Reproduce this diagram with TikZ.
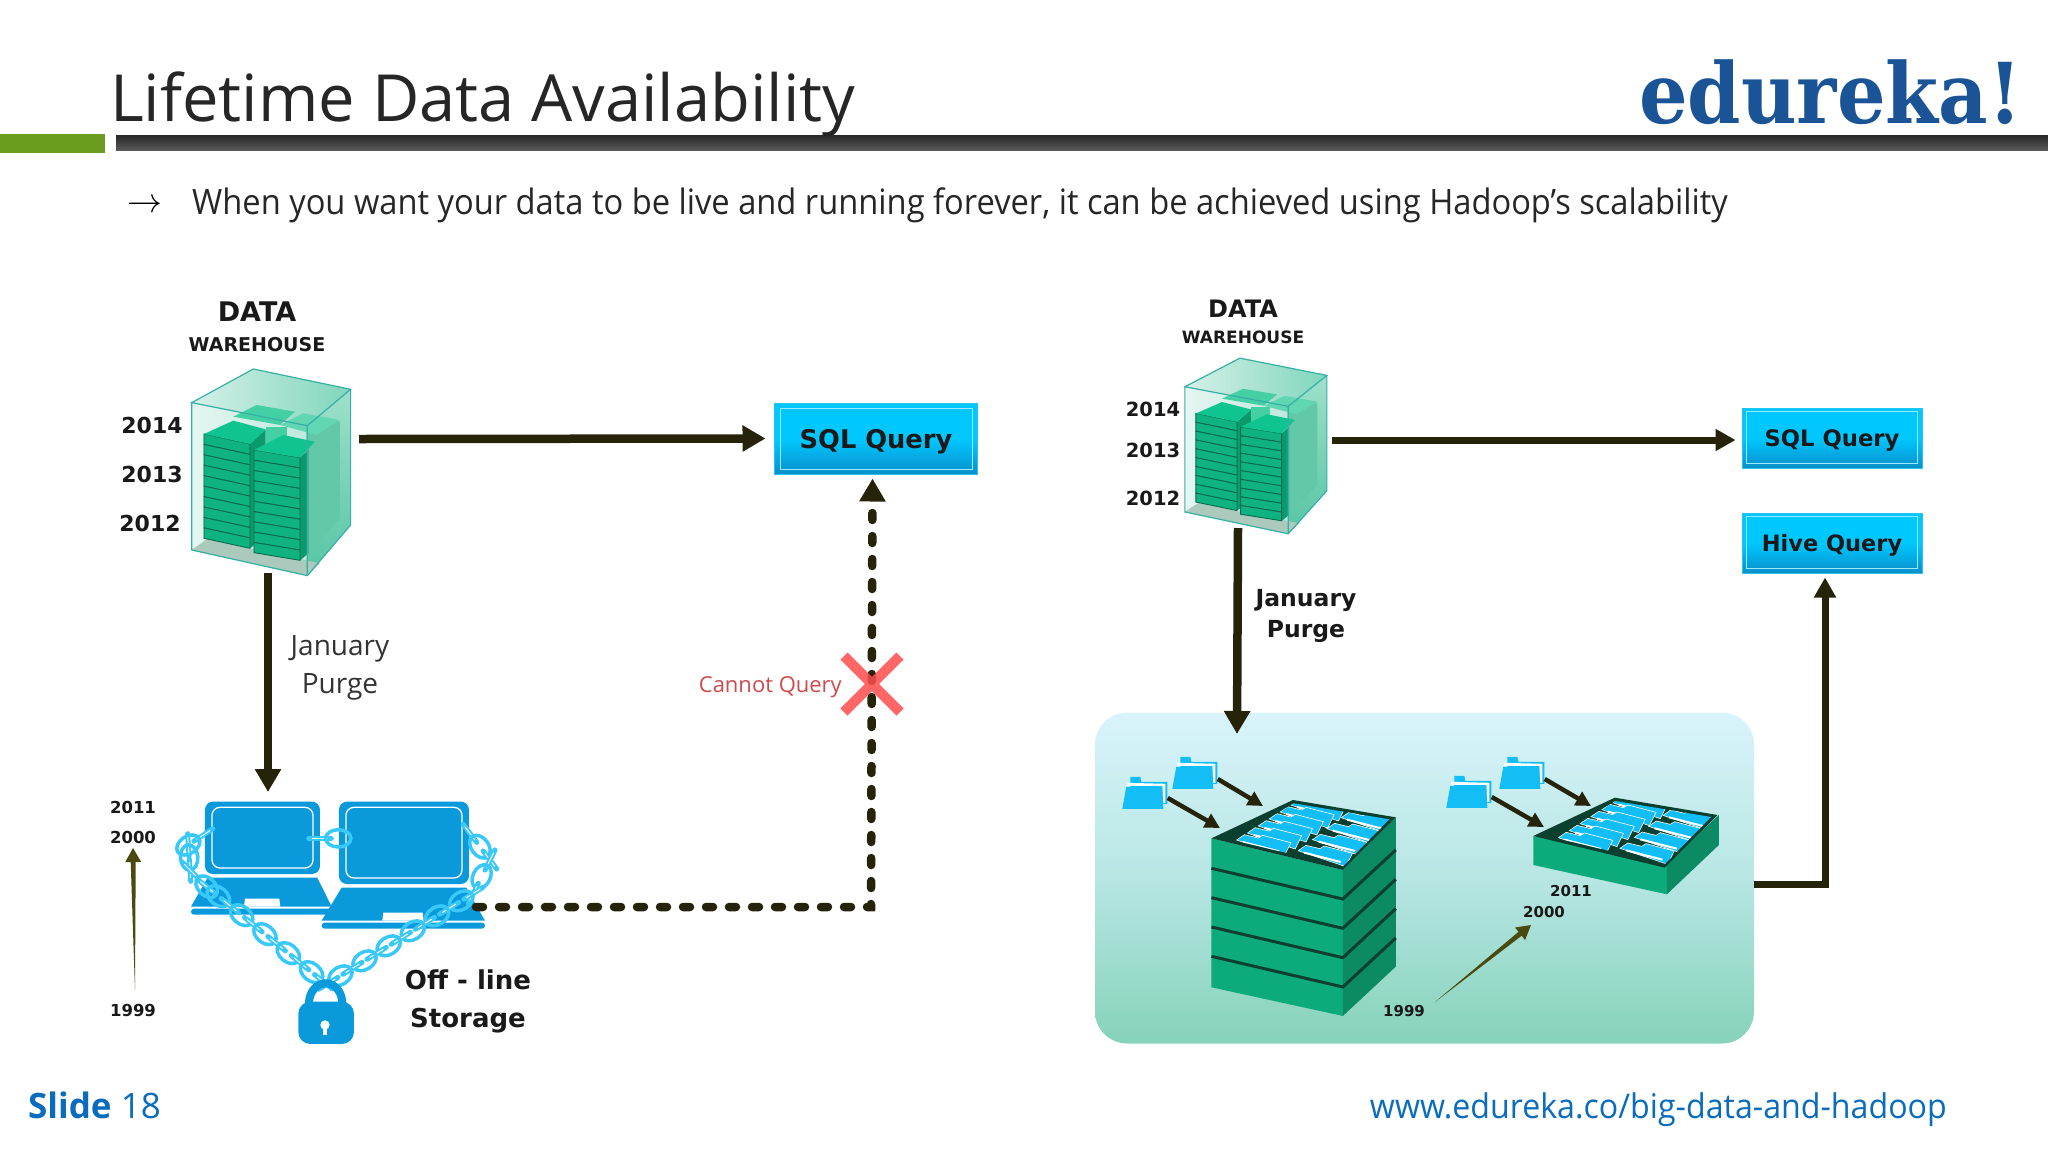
\documentclass[tikz,border=0pt]{standalone}
\usepackage{fontspec}
\setmainfont{Open Sans}
\newfontfamily\verd{DejaVu Sans}
\newfontfamily\logofont{DejaVu Serif}
\usetikzlibrary{arrows.meta,calc}
\newcommand{\fsz}[1]{\fontsize{#1}{#1}\selectfont}
\definecolor{arrowdark}{HTML}{25240A}
\definecolor{olivearrow}{HTML}{4A4A10}
\definecolor{lapblue}{HTML}{0A9ADB}
\definecolor{chainblue}{HTML}{38C8FA}
\definecolor{filecyan}{HTML}{12BEF5}
\definecolor{stackfront}{HTML}{0DAB7C}
\definecolor{stackside}{HTML}{0B8A64}
\definecolor{stackline}{HTML}{0B3F30}
\definecolor{slatfront}{HTML}{0FB381}
\definecolor{slatline}{HTML}{0A6B4D}
\definecolor{slattop}{HTML}{10C48F}
\definecolor{slatside}{HTML}{0B9A6E}
\definecolor{glassleft}{HTML}{E5F6F2}
\definecolor{glassmid}{HTML}{C0E8DE}
\definecolor{glasstopa}{HTML}{D5F0E8}
\definecolor{glasstopb}{HTML}{80D6BC}
\definecolor{glasssidea}{HTML}{9FE0CB}
\definecolor{glasssideb}{HTML}{55C5A3}
\definecolor{glassedge}{HTML}{35B0A2}
\definecolor{rearstack}{HTML}{62C8A8}
\definecolor{rearplate}{HTML}{45CFA5}
\definecolor{floorgrey}{HTML}{ABC9BD}
\definecolor{pooltop}{HTML}{D9F4FB}
\definecolor{poolmid}{HTML}{B7E6E3}
\definecolor{poolbottom}{HTML}{86D2BA}
\definecolor{slidebrand}{HTML}{0A6CBD}
\definecolor{logoblue}{HTML}{1A5496}
\definecolor{nogored}{HTML}{D04A4C}
\definecolor{bargreen}{HTML}{6A9C1E}
\definecolor{qtop}{HTML}{00C8FF}
\definecolor{qbottom}{HTML}{0A8FCB}
\definecolor{qedge}{HTML}{25C4F5}
\tikzset{
    bigarrow/.style={draw=arrowdark,line width=8.5pt,-{Triangle[width=25pt,length=23pt]}},
    medarrow/.style={draw=arrowdark,line width=7pt,-{Triangle[width=21pt,length=20pt]}},
    smallarrow/.style={draw=arrowdark,line width=4.5pt,-{Triangle[width=15pt,length=15pt]}},
    dasharrow/.style={draw=arrowdark,line width=8.5pt,line cap=round,dash pattern=on 7pt off 16pt,-{Triangle[width=25pt,length=23pt]}},
    querybox/.style={rectangle,inner sep=0pt,top color=qtop,bottom color=qbottom,middle color=qtop,draw=qedge,line width=1pt},
    yeartext/.style={inner sep=0pt,text=black!90,font=\verd\bfseries\fsz{#1}},
    holdbox/.style={inner sep=0pt,minimum width=#1},
    folderbox/.style={inner sep=0pt,minimum width=45pt,minimum height=32pt},
    chainring/.style={draw=chainblue,line width=3.5pt},
}
% run of chain links between two points
\newcommand{\chainseg}[5]{
    \pgfmathsetmacro\ang{atan2(-(#4-#2),#3-#1)}
    \foreach \n in {0,...,#5}{
        \pgfmathsetmacro\px{#1+(#3-#1)*\n/#5}
        \pgfmathsetmacro\py{#2+(#4-#2)*\n/#5}
        \begin{scope}[shift={(\px,\py)},rotate=\ang]
            \ifodd\n
                \draw[chainring] (0,0) ellipse (38pt and 26pt);
            \else
                \draw[chainblue,line width=5pt,line cap=round] (-34pt,0)--(34pt,0);
                \draw[white,line width=1pt] (-24pt,0)--(24pt,0);
            \fi
        \end{scope}
    }
}
% cube with server stacks, in the coordinates of the left one
\newcommand{\datacube}{
    \shade[left color=glasstopa,right color=glasstopb] (275,398)--(460,297)--(752,358)--(622,467)--cycle;
    \shade[top color=glasssidea,bottom color=glasssideb] (622,467)--(752,358)--(752,765)--(622,917)--cycle;
    \shade[left color=glassleft,right color=glassmid] (275,398)--(622,467)--(622,917)--(275,840)--cycle;
    %rear stacks
    \fill[rearstack] (620,470)--(645,445)--(720,455)--(720,745)--(655,815)--(620,830)--cycle;
    \fill[rearplate] (400,440)--(470,405)--(585,425)--(540,465)--cycle;
    \fill[rearplate!85!white] (540,465)--(610,430)--(718,450)--(650,495)--cycle;
    \fill[rearplate] (497,470)--(560,470)--(560,540)--(497,540)--cycle;
    %floor
    \fill[floorgrey] (275,840)--(320,808)--(660,880)--(622,917)--cycle;
    %front stacks
    \fill[slatside] (450,522)--(497,478)--(497,800)--(450,835)--cycle;
    \foreach \i in {0,...,9}{
        \draw[slatline,fill=slatfront,line width=.9pt] (312,{492+\i*31.3})--(450,{522+\i*31.3})--(450,{553.3+\i*31.3})--(312,{523.3+\i*31.3})--cycle;
    }
    \fill[slattop] (312,492)--(400,452)--(497,478)--(450,522)--cycle;
    \fill[slatside] (600,563)--(625,540)--(625,850)--(600,872)--cycle;
    \foreach \i in {0,...,9}{
        \draw[slatline,fill=slatfront,line width=.9pt] (462,{540+\i*30.8})--(600,{563+\i*30.8})--(600,{593.8+\i*30.8})--(462,{570.8+\i*30.8})--cycle;
    }
    \fill[slattop] (462,540)--(550,495)--(645,515)--(600,563)--cycle;
    %glass edges
    \draw[glassedge,line width=1.2pt] (275,398)--(460,297)--(752,358)--(622,467)--cycle (275,398)--(275,840)--(622,917)--(752,765)--(752,358) (622,467)--(622,917);
}
% one laptop
\newcommand{\laptop}[9]{
    \fill[lapblue,rounded corners=8pt] (#1,#2) rectangle (#3,#4);
    \draw[white,line width=1.3pt,rounded corners=8pt] ({#1+21},{#2+17}) rectangle ({#3-21},{#4-18});
    \fill[lapblue] ({#1+8},{#4+11})--({#3-8},{#4+11})--(#6,#7)--(#5,#7)--cycle;
    \fill[lapblue,rounded corners=3pt] (#5,{#7+6}) rectangle (#6,{#7+24});
    \fill[white] (#8,{#7-24})--(#9,{#7-24})--({#9+3},#7)--({#8-3},#7)--cycle;
}
% folder, top left at the origin
\newcommand{\folder}{
    \fill[filecyan] (8,0)--(18,0)--(19,5)--(45,5)--(45,27)--(8,27)--cycle;
    \fill[white] (5,6)--(43,7)--(43,26)--(40,26)--(40,9)--(5,9)--cycle;
    \fill[filecyan] (4,10)--(40,10)--(41,32)--(0,32)--cycle;
}
% one hanging file on a tray
\newcommand{\filecard}{
    \fill[filecyan,draw=white,line width=.6pt] (0,0)--(18,-16)--(50,-6)--(60,-14)--(125,8)--(110,48)--cycle;
    \draw[white,line width=2pt] (14,6)--(98,34);
}
% open top of a green box, with its files
\newcommand{\filetray}{
    \fill[stackline] (280,415)--(468,300)--(705,352)--(583,510)--cycle;
    \begin{scope}
        \clip (330,420)--(470,310)--(690,358)--(583,500)--cycle;
        \foreach \k in {5,...,0}{
            \begin{scope}[shift={(338+\k*25,420-\k*21)}]\filecard\end{scope}
        }
        \foreach \k in {3,...,0}{
            \begin{scope}[shift={(480+\k*33,452-\k*33)}]\filecard\end{scope}
        }
    \end{scope}
}
% arrow that narrows towards its tail
\newcommand{\taper}[3]{
    \coordinate (hb) at ($(#2)!#3!(#1)$);
    \fill[olivearrow] (#1)--($(hb)!2.5pt!90:(#2)$)--($(hb)!8pt!90:(#2)$)--(#2)--($(hb)!8pt!-90:(#2)$)--($(hb)!2.5pt!-90:(#2)$)--cycle;
}
\begin{document}
\begin{tikzpicture}[x=1pt,y=-1pt]
    \useasboundingbox (0,0) rectangle (2048,1152);
    %header
    \node[anchor=base west,inner sep=0pt,text=black!85,font=\fsz{65}] (title) at (110,121) {Lifetime Data Availability};
    \node[anchor=base west,inner sep=0pt,text=logoblue,font=\logofont\bfseries] (logo) at (1639,123) {\scalebox{.91}[1]{\fsz{84}edureka!}};
    \fill[bargreen] (0,134) rectangle (105,153);
    \shade[top color=black!85,bottom color=black!65] (116,135) rectangle (2048,150);
    \node[inner sep=0pt,font=\fsz{32}] (bullet) at (145,206) {\scalebox{1.4}{$\rightarrow$}};
    \node[anchor=base west,inner sep=0pt,text=black!85,font=\fsz{35}] (lead) at (192,214) {\scalebox{.933}[1]{When you want your data to be live and running forever, it can be achieved using Hadoop’s scalability}};

    %left warehouse
    \node[yeartext=27] (dataA) at (257,312) {DATA};
    \node[yeartext=19] (wareA) at (257,345) {WAREHOUSE};
    \begin{scope}[shift={(100,270)},scale=.3333]
        \datacube
    \end{scope}
    \node[holdbox=159pt,minimum height=207pt] (cubeA) at (271,472) {};
    \node[yeartext=22] at (152,425) (yearAa) {2014};
    \node[yeartext=22] at (152,474) (yearAb) {2013};
    \node[yeartext=22] at (150,523) (yearAc) {2012};

    %left query box
    \node[querybox,minimum width=203pt,minimum height=71pt] (sqlA) at (875.5,438.5) {};
    \draw[white!60!qtop,line width=1.2pt] ([shift={(7pt,-6pt)}]sqlA.north west) rectangle ([shift={(-5pt,5pt)}]sqlA.south east);
    \node[yeartext=25.7] (sqlAtext) at (876,442) {SQL Query};
    \coordinate (cubeAout) at (359,439);
    \coordinate (cubeAdown) at (268,573);
    \coordinate (laptopin) at (268,792);
    \draw[bigarrow] (cubeAout) -- ([xshift=-8pt]sqlA.west);
    \draw[bigarrow] (cubeAdown) -- (laptopin);
    \node[font=\fsz{28},text=black!80,inner sep=0pt] (purgeAa) at (340,649) {January};
    \node[font=\fsz{28},text=black!80,inner sep=0pt] (purgeAb) at (340,687) {Purge};

    %offline storage
    \begin{scope}[shift={(90,770)},scale=.3333]
        \laptop{345}{95}{690}{312}{303}{725}{410}{465}{568}
        \laptop{747}{95}{1137}{342}{695}{1185}{452}{880}{998}
        %chains
        \chainseg{340}{195}{295}{225}{1}
        \chainseg{295}{225}{300}{300}{2}
        \chainseg{300}{300}{350}{350}{1}
        \chainseg{350}{350}{700}{635}{10}
        \chainseg{1140}{190}{1200}{270}{2}
        \chainseg{1200}{270}{1150}{370}{2}
        \chainseg{1150}{370}{715}{640}{12}
        \chainseg{690}{205}{745}{205}{1}
        %padlock
        \draw[lapblue,line width=8pt] (657,700) arc (180:360:50 and 60);
        \fill[lapblue,rounded corners=12pt] (625,695) rectangle (792,822);
        \fill[white] (705,765) circle (14);
        \fill[white] (698,765) rectangle (712,795);
    \end{scope}
    \node[yeartext=26] (offA) at (468,980) {Off - line};
    \node[yeartext=26] (offB) at (468,1021) {Storage};
    \node[yeartext=16.5] (lowA) at (133,807) {2011};
    \node[yeartext=16.5] (midA) at (133,837) {2000};
    \node[yeartext=16.5] (oldA) at (133,1010) {1999};
    \coordinate (tailA) at (135,990);
    \coordinate (tipA) at (133,848);
    \taper{tailA}{tipA}{14pt}

    %offline path to the query box
    \coordinate (dashstart) at (476,907);
    \coordinate (dashcorner) at (871,907);
    \draw[dasharrow] (dashstart) -- (dashcorner) -- ([shift={(-3pt,-4pt)}]sqlA.south);
    \coordinate (crossc) at (872,684);
    \draw[red!70!white,line width=10pt,opacity=.85] ($(crossc)+(-28,-28)$) -- ($(crossc)+(28,28)$) ($(crossc)+(28,-28)$) -- ($(crossc)+(-28,28)$);
    \node[anchor=east,inner sep=0pt,text=nogored,font=\fsz{22}] (nocan) at (842,687) {Cannot Query};

    %right warehouse
    \node[yeartext=24] (dataB) at (1243,309) {DATA};
    \node[yeartext=17] (wareB) at (1243,337) {WAREHOUSE};
    \begin{scope}[shift={(1103,274)},xscale=.2977,yscale=.2833]
        \datacube
    \end{scope}
    \node[holdbox=142pt,minimum height=177pt] (cubeB) at (1256,445) {};
    \node[yeartext=19.5] at (1153,409) (yearBa) {2014};
    \node[yeartext=19.5] at (1153,450) (yearBb) {2013};
    \node[yeartext=19.5] at (1153,498) (yearBc) {2012};

    %right query boxes
    \node[querybox,minimum width=180pt,minimum height=60pt] (sqlB) at (1832,438) {};
    \node[querybox,minimum width=180pt,minimum height=60pt] (hive) at (1832,543) {};
    \foreach \b in {sqlB,hive}
        \draw[white!60!qtop,line width=1.2pt] ([shift={(5pt,-4pt)}]\b.north west) rectangle ([shift={(-5pt,5pt)}]\b.south east);
    \node[yeartext=22.7] (sqlBtext) at (1832,441) {SQL Query};
    \node[yeartext=22.5] (hivetext) at (1832,545) {Hive Query};
    \coordinate (cubeBout) at (1332,440);
    \coordinate (cubeBdown) at (1238,528);
    \draw[medarrow] (cubeBout) -- ([xshift=-6pt,yshift=-2pt]sqlB.west);
    \node[yeartext=23.5] (purgeBa) at (1306,600) {January};
    \node[yeartext=23.5] (purgeBb) at (1306,631) {Purge};

    %hadoop pool
    \node[inner sep=0pt,minimum width=659pt,minimum height=331pt,rounded corners=32pt,top color=pooltop,bottom color=poolbottom,middle color=poolmid] (pool) at (1424.5,878) {};
    \coordinate (poolin) at (1237,734);
    \draw[bigarrow] (cubeBdown) -- (poolin);
    \draw[medarrow] ([yshift=-6pt]pool.east) -| ([xshift=-7pt,yshift=-4pt]hive.south);
    \begin{scope}[shift={(1090,700)},xscale=.4337,yscale=.3333]
        %tall box
        \fill[stackfront] (280,415)--(583,510)--(583,948)--(280,862)--cycle;
        \fill[stackside] (583,510)--(705,352)--(705,800)--(583,948)--cycle;
        \foreach \i in {0,...,3}{
            \draw[stackline,line width=3pt] (280,{505+\i*88})--(583,{597+\i*88})--(705,{450+\i*88});
        }
        \filetray
        %flat box
        \fill[stackfront] (1022,408)--(1330,490)--(1330,583)--(1022,495)--cycle;
        \fill[stackside] (1330,490)--(1450,345)--(1450,435)--(1330,583)--cycle;
        \begin{scope}[shift={(742,-7)}]
            \filetray
        \end{scope}
    \end{scope}
    %folders
    \node[folderbox] (fa) at (1145,793) {};
    \node[folderbox] (fb) at (1195,773) {};
    \node[folderbox] (fc) at (1469,792) {};
    \node[folderbox] (fd) at (1522,773) {};
    \foreach \f in {fa,fb,fc,fd}{
        \begin{scope}[shift={(\f.north west)}]\folder\end{scope}
    }
    \coordinate (tallA) at (1220,828);
    \coordinate (tallB) at (1263,806);
    \coordinate (flatA) at (1544,827);
    \coordinate (flatB) at (1591,806);
    \draw[smallarrow] ([yshift=-5pt]fa.east) -- (tallA);
    \draw[smallarrow] ([yshift=-6pt]fb.east) -- (tallB);
    \draw[smallarrow] ([yshift=-5pt]fc.east) -- (flatA);
    \draw[smallarrow] ([yshift=-6pt]fd.east) -- (flatB);
    \node[yeartext=15] (lowB) at (1571,891) {2011};
    \node[yeartext=15] (midB) at (1544,912) {2000};
    \node[yeartext=15] (oldB) at (1404,1011) {1999};
    \coordinate (tailB) at (1435,1002);
    \coordinate (tipB) at (1531,925);
    \taper{tailB}{tipB}{14pt}

    %footer
    \node[anchor=base west,inner sep=0pt,text=slidebrand,font=\fsz{35}] (slide) at (28,1118) {\textbf{Slide} 18};
    \node[anchor=base east,inner sep=0pt,text=slidebrand,font=\fsz{34}] (url) at (1947,1118) {\scalebox{.946}[1]{www.edureka.co/big-data-and-hadoop}};
\end{tikzpicture}
\end{document}
